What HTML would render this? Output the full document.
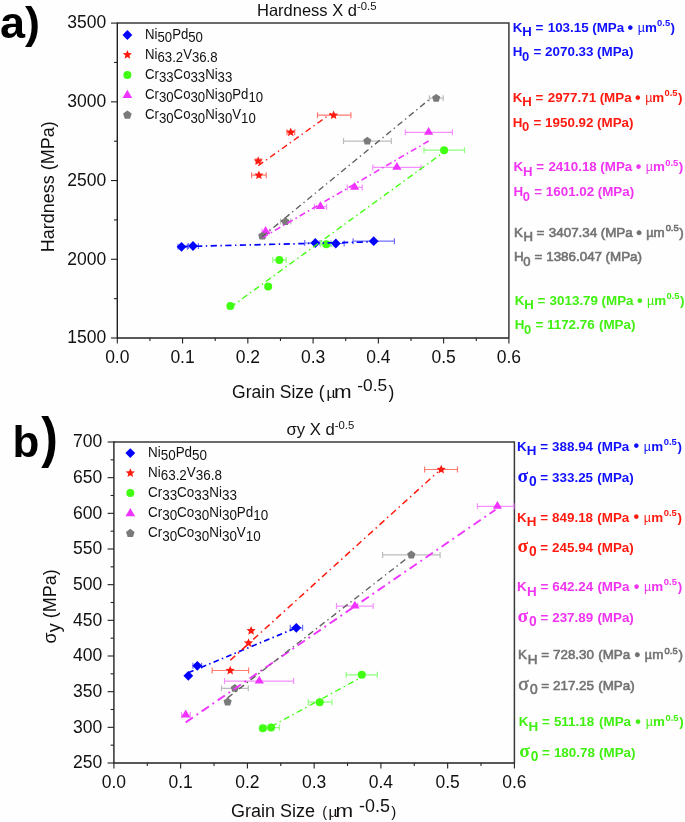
<!DOCTYPE html>
<html><head><meta charset="utf-8"><title>Hall-Petch plots</title>
<style>
html,body{margin:0;padding:0;background:#fefefe;overflow:hidden;width:685px;height:822px;}
svg{display:block;font-family:'Liberation Sans', sans-serif;will-change:transform;}
</style></head><body>
<svg width="685" height="822" viewBox="0 0 685 822">
<rect width="685" height="822" fill="#fefefe"/>
<path d="M117.3 23.1H508.9V338.0" stroke="#3a3a3a" stroke-width="1.5" fill="none"/>
<path d="M117.3 22.400000000000002V338.0H508.9" stroke="#222" stroke-width="1.4" fill="none"/>
<path d="M117.30 338.0V343.5" stroke="#222" stroke-width="1.1"/>
<text x="117.30" y="362.60" font-size="17.5" text-anchor="middle" font-weight="normal" fill="#111" >0.0</text>
<path d="M182.57 338.0V343.5" stroke="#222" stroke-width="1.1"/>
<text x="182.57" y="362.60" font-size="17.5" text-anchor="middle" font-weight="normal" fill="#111" >0.1</text>
<path d="M247.83 338.0V343.5" stroke="#222" stroke-width="1.1"/>
<text x="247.83" y="362.60" font-size="17.5" text-anchor="middle" font-weight="normal" fill="#111" >0.2</text>
<path d="M313.10 338.0V343.5" stroke="#222" stroke-width="1.1"/>
<text x="313.10" y="362.60" font-size="17.5" text-anchor="middle" font-weight="normal" fill="#111" >0.3</text>
<path d="M378.37 338.0V343.5" stroke="#222" stroke-width="1.1"/>
<text x="378.37" y="362.60" font-size="17.5" text-anchor="middle" font-weight="normal" fill="#111" >0.4</text>
<path d="M443.63 338.0V343.5" stroke="#222" stroke-width="1.1"/>
<text x="443.63" y="362.60" font-size="17.5" text-anchor="middle" font-weight="normal" fill="#111" >0.5</text>
<path d="M508.90 338.0V343.5" stroke="#222" stroke-width="1.1"/>
<text x="508.90" y="362.60" font-size="17.5" text-anchor="middle" font-weight="normal" fill="#111" >0.6</text>
<path d="M149.93 338.0V341.0" stroke="#222" stroke-width="1.1"/>
<path d="M215.20 338.0V341.0" stroke="#222" stroke-width="1.1"/>
<path d="M280.47 338.0V341.0" stroke="#222" stroke-width="1.1"/>
<path d="M345.73 338.0V341.0" stroke="#222" stroke-width="1.1"/>
<path d="M411.00 338.0V341.0" stroke="#222" stroke-width="1.1"/>
<path d="M476.27 338.0V341.0" stroke="#222" stroke-width="1.1"/>
<path d="M111.00 338.00H117.3" stroke="#222" stroke-width="1.1"/>
<text x="106.30" y="343.30" font-size="17.5" text-anchor="end" font-weight="normal" fill="#111" >1500</text>
<path d="M111.00 259.27H117.3" stroke="#222" stroke-width="1.1"/>
<text x="106.30" y="264.57" font-size="17.5" text-anchor="end" font-weight="normal" fill="#111" >2000</text>
<path d="M111.00 180.55H117.3" stroke="#222" stroke-width="1.1"/>
<text x="106.30" y="185.85" font-size="17.5" text-anchor="end" font-weight="normal" fill="#111" >2500</text>
<path d="M111.00 101.83H117.3" stroke="#222" stroke-width="1.1"/>
<text x="106.30" y="107.13" font-size="17.5" text-anchor="end" font-weight="normal" fill="#111" >3000</text>
<path d="M111.00 23.10H117.3" stroke="#222" stroke-width="1.1"/>
<text x="106.30" y="28.40" font-size="17.5" text-anchor="end" font-weight="normal" fill="#111" >3500</text>
<path d="M114.00 298.64H117.3" stroke="#222" stroke-width="1.1"/>
<path d="M114.00 219.91H117.3" stroke="#222" stroke-width="1.1"/>
<path d="M114.00 141.19H117.3" stroke="#222" stroke-width="1.1"/>
<path d="M114.00 62.46H117.3" stroke="#222" stroke-width="1.1"/>
<path d="M178.00 246.80H187.40M178.00 243.80V249.80M187.40 243.80V249.80" stroke="#7070ff" stroke-width="1.2" fill="none"/>
<path d="M188.50 246.00H198.40M188.50 243.00V249.00M198.40 243.00V249.00" stroke="#7070ff" stroke-width="1.2" fill="none"/>
<path d="M304.70 243.00H320.00M304.70 240.00V246.00M320.00 240.00V246.00" stroke="#7070ff" stroke-width="1.2" fill="none"/>
<path d="M331.00 243.50H344.20M331.00 240.50V246.50M344.20 240.50V246.50" stroke="#7070ff" stroke-width="1.2" fill="none"/>
<path d="M353.10 241.20H394.40M353.10 238.20V244.20M394.40 238.20V244.20" stroke="#7070ff" stroke-width="1.2" fill="none"/>
<path d="M181.50 241.90L186.40 246.80L181.50 251.70L176.60 246.80Z" fill="#0000ff"/>
<path d="M193.00 241.10L197.90 246.00L193.00 250.90L188.10 246.00Z" fill="#0000ff"/>
<path d="M315.30 238.10L320.20 243.00L315.30 247.90L310.40 243.00Z" fill="#0000ff"/>
<path d="M335.80 238.60L340.70 243.50L335.80 248.40L330.90 243.50Z" fill="#0000ff"/>
<path d="M373.70 236.30L378.60 241.20L373.70 246.10L368.80 241.20Z" fill="#0000ff"/>
<path d="M256.00 161.10H261.00M256.00 158.10V164.10M261.00 158.10V164.10" stroke="#ff7a70" stroke-width="1.2" fill="none"/>
<path d="M251.60 175.20H266.20M251.60 172.20V178.20M266.20 172.20V178.20" stroke="#ff7a70" stroke-width="1.2" fill="none"/>
<path d="M287.00 132.30H294.70M287.00 129.30V135.30M294.70 129.30V135.30" stroke="#ff7a70" stroke-width="1.2" fill="none"/>
<path d="M317.50 115.20H350.90M317.50 112.20V118.20M350.90 112.20V118.20" stroke="#ff7a70" stroke-width="1.2" fill="none"/>
<polygon points="258.20,156.30 259.49,159.32 262.77,159.62 260.29,161.78 261.02,164.98 258.20,163.30 255.38,164.98 256.11,161.78 253.63,159.62 256.91,159.32" fill="#ff1a10"/>
<polygon points="258.90,170.40 260.19,173.42 263.47,173.72 260.99,175.88 261.72,179.08 258.90,177.40 256.08,179.08 256.81,175.88 254.33,173.72 257.61,173.42" fill="#ff1a10"/>
<polygon points="290.70,127.50 291.99,130.52 295.27,130.82 292.79,132.98 293.52,136.18 290.70,134.50 287.88,136.18 288.61,132.98 286.13,130.82 289.41,130.52" fill="#ff1a10"/>
<polygon points="333.60,110.40 334.89,113.42 338.17,113.72 335.69,115.88 336.42,119.08 333.60,117.40 330.78,119.08 331.51,115.88 329.03,113.72 332.31,113.42" fill="#ff1a10"/>
<path d="M272.80 260.10H286.20M272.80 257.10V263.10M286.20 257.10V263.10" stroke="#90ff80" stroke-width="1.2" fill="none"/>
<path d="M320.80 244.20H331.50M320.80 241.20V247.20M331.50 241.20V247.20" stroke="#90ff80" stroke-width="1.2" fill="none"/>
<path d="M424.00 150.20H464.50M424.00 147.20V153.20M464.50 147.20V153.20" stroke="#90ff80" stroke-width="1.2" fill="none"/>
<circle cx="230.40" cy="306.00" r="4.0" fill="#40ff10"/>
<circle cx="268.20" cy="286.60" r="4.0" fill="#40ff10"/>
<circle cx="279.40" cy="260.10" r="4.0" fill="#40ff10"/>
<circle cx="326.30" cy="244.20" r="4.0" fill="#40ff10"/>
<circle cx="444.10" cy="150.20" r="4.0" fill="#40ff10"/>
<path d="M262.00 231.50H269.50M262.00 228.50V234.50M269.50 228.50V234.50" stroke="#f490ff" stroke-width="1.2" fill="none"/>
<path d="M314.40 206.70H326.60M314.40 203.70V209.70M326.60 203.70V209.70" stroke="#f490ff" stroke-width="1.2" fill="none"/>
<path d="M347.30 187.40H362.30M347.30 184.40V190.40M362.30 184.40V190.40" stroke="#f490ff" stroke-width="1.2" fill="none"/>
<path d="M372.80 167.40H421.10M372.80 164.40V170.40M421.10 164.40V170.40" stroke="#f490ff" stroke-width="1.2" fill="none"/>
<path d="M405.30 132.30H452.40M405.30 129.30V135.30M452.40 129.30V135.30" stroke="#f490ff" stroke-width="1.2" fill="none"/>
<path d="M265.60 226.10L270.20 233.90L261.00 233.90Z" fill="#f033ff"/>
<path d="M320.40 201.30L325.00 209.10L315.80 209.10Z" fill="#f033ff"/>
<path d="M354.60 182.00L359.20 189.80L350.00 189.80Z" fill="#f033ff"/>
<path d="M396.90 162.00L401.50 169.80L392.30 169.80Z" fill="#f033ff"/>
<path d="M428.60 126.90L433.20 134.70L424.00 134.70Z" fill="#f033ff"/>
<path d="M259.50 236.10H265.50M259.50 233.10V239.10M265.50 233.10V239.10" stroke="#bcbcbc" stroke-width="1.2" fill="none"/>
<path d="M280.50 221.60H290.80M280.50 218.60V224.60M290.80 218.60V224.60" stroke="#bcbcbc" stroke-width="1.2" fill="none"/>
<path d="M343.50 141.10H391.30M343.50 138.10V144.10M391.30 138.10V144.10" stroke="#bcbcbc" stroke-width="1.2" fill="none"/>
<path d="M429.40 98.20H443.20M429.40 95.20V101.20M443.20 95.20V101.20" stroke="#bcbcbc" stroke-width="1.2" fill="none"/>
<polygon points="262.30,231.80 266.39,234.77 264.83,239.58 259.77,239.58 258.21,234.77" fill="#7a7a7a"/>
<polygon points="285.40,217.30 289.49,220.27 287.93,225.08 282.87,225.08 281.31,220.27" fill="#7a7a7a"/>
<polygon points="367.30,136.80 371.39,139.77 369.83,144.58 364.77,144.58 363.21,139.77" fill="#7a7a7a"/>
<polygon points="436.20,93.90 440.29,96.87 438.73,101.68 433.67,101.68 432.11,96.87" fill="#7a7a7a"/>
<path d="M181.50 246.60L373.60 241.82" stroke="#0000ff" stroke-width="1.7" stroke-dasharray="6.2 3.5 1.4 3.5" fill="none"/>
<path d="M258.20 165.79L331.10 113.42" stroke="#ff1a10" stroke-width="1.4" stroke-dasharray="6.2 3.5 1.4 3.5" fill="none"/>
<path d="M230.40 307.29L442.00 153.45" stroke="#40ff10" stroke-width="1.4" stroke-dasharray="6.2 3.5 1.4 3.5" fill="none"/>
<path d="M262.60 237.61L429.00 140.86" stroke="#f033ff" stroke-width="1.6" stroke-dasharray="6.2 3.3 1.5 3.3" fill="none"/>
<path d="M262.20 236.84L430.00 98.91" stroke="#5f5f5f" stroke-width="1.35" stroke-dasharray="6.2 3.5 1.4 3.5" fill="none"/>
<path d="M127.40 30.10L132.30 35.00L127.40 39.90L122.50 35.00Z" fill="#0000ff"/>
<text transform="translate(145.0,38.70) scale(1,1.07)" font-size="13.2" fill="#111"><tspan dy="0">Ni</tspan><tspan dy="3.4">50</tspan><tspan dy="-3.4">Pd</tspan><tspan dy="3.4">50</tspan></text>
<polygon points="127.40,50.05 128.66,53.11 131.97,53.37 129.44,55.51 130.22,58.73 127.40,57.00 124.58,58.73 125.36,55.51 122.83,53.37 126.14,53.11" fill="#ff1a10"/>
<text transform="translate(145.0,58.75) scale(1,1.07)" font-size="13.2" fill="#111"><tspan dy="0">Ni</tspan><tspan dy="3.4">63.2</tspan><tspan dy="-3.4">V</tspan><tspan dy="3.4">36.8</tspan></text>
<circle cx="127.40" cy="74.90" r="4.0" fill="#40ff10"/>
<text transform="translate(145.0,78.80) scale(1,1.07)" font-size="13.2" fill="#111"><tspan dy="0">Cr</tspan><tspan dy="3.4">33</tspan><tspan dy="-3.4">Co</tspan><tspan dy="3.4">33</tspan><tspan dy="-3.4">Ni</tspan><tspan dy="3.4">33</tspan></text>
<path d="M127.40 89.75L132.20 98.05L122.60 98.05Z" fill="#f033ff"/>
<text transform="translate(145.0,98.85) scale(1,1.07)" font-size="13.2" fill="#111"><tspan dy="0">Cr</tspan><tspan dy="3.4">30</tspan><tspan dy="-3.4">Co</tspan><tspan dy="3.4">30</tspan><tspan dy="-3.4">Ni</tspan><tspan dy="3.4">30</tspan><tspan dy="-3.4">Pd</tspan><tspan dy="3.4">10</tspan></text>
<polygon points="127.40,110.50 131.68,113.61 130.05,118.64 124.75,118.64 123.12,113.61" fill="#7a7a7a"/>
<text transform="translate(145.0,118.90) scale(1,1.07)" font-size="13.2" fill="#111"><tspan dy="0">Cr</tspan><tspan dy="3.4">30</tspan><tspan dy="-3.4">Co</tspan><tspan dy="3.4">30</tspan><tspan dy="-3.4">Ni</tspan><tspan dy="3.4">30</tspan><tspan dy="-3.4">V</tspan><tspan dy="3.4">10</tspan></text>
<text x="257" y="16.1" font-size="16.5" fill="#111">Hardness X d<tspan font-size="11.3" dy="-6.2">-0.5</tspan></text>
<text transform="translate(53.8,252.2) rotate(-90)" x="0" y="0" font-size="18" fill="#111">Hardness (MPa)</text>
<text x="232.1" y="397.8" font-size="17.5" fill="#111">Grain Size (</text>
<text x="326.6" y="397.8" font-size="15.5" fill="#111">µ</text>
<text x="333.9" y="397.8" font-size="17.5" fill="#111" textLength="17.6" lengthAdjust="spacingAndGlyphs">m</text>
<text x="357.3" y="391.2" font-size="17.3" fill="#111">-0.5</text>
<text x="388.4" y="397.8" font-size="17.5" fill="#111">)</text>
<text x="0" y="37.7" font-size="45" font-weight="bold" fill="#000">a)</text>
<text y="31.8" font-size="13.4" font-weight="bold" fill="#1010ff"><tspan x="512.80">K</tspan><tspan x="522.30" font-size="13.2" dy="4.4">H</tspan><tspan x="535.50" dy="-4.4">=</tspan><tspan x="547.70">103.15</tspan><tspan x="592.18">(MPa</tspan><tspan x="627.58" font-size="16" dy="0.8">•</tspan><tspan x="637.68" dy="-0.8" font-weight="normal" font-size="12.5">µ</tspan><tspan x="644.88">m</tspan><tspan x="657.08" font-size="9.4" dy="-5.6">0.5</tspan><tspan x="670.58" dy="5.6">)</tspan></text>
<text y="56.4" font-size="13.4" font-weight="bold" fill="#1010ff"><tspan x="512.80">H</tspan><tspan x="522.10" font-size="13.0" dy="4.6">0</tspan><tspan x="533.50" dy="-4.6">=</tspan><tspan x="545.10">2070.33</tspan><tspan x="597.03">(MPa)</tspan></text>
<text y="101.9" font-size="13.4" font-weight="bold" fill="#ff1a10"><tspan x="512.80">K</tspan><tspan x="522.30" font-size="13.2" dy="4.4">H</tspan><tspan x="535.50" dy="-4.4">=</tspan><tspan x="547.70">2977.71</tspan><tspan x="599.63">(MPa</tspan><tspan x="635.03" font-size="16" dy="0.8">•</tspan><tspan x="645.13" dy="-0.8" font-weight="normal" font-size="12.5">µ</tspan><tspan x="652.33">m</tspan><tspan x="664.53" font-size="9.4" dy="-5.6">0.5</tspan><tspan x="678.03" dy="5.6">)</tspan></text>
<text y="126.5" font-size="13.4" font-weight="bold" fill="#ff1a10"><tspan x="512.80">H</tspan><tspan x="522.10" font-size="13.0" dy="4.6">0</tspan><tspan x="533.50" dy="-4.6">=</tspan><tspan x="545.10">1950.92</tspan><tspan x="597.03">(MPa)</tspan></text>
<text y="171.3" font-size="13.4" font-weight="bold" fill="#f033f0"><tspan x="513.50">K</tspan><tspan x="523.00" font-size="13.2" dy="4.4">H</tspan><tspan x="536.20" dy="-4.4">=</tspan><tspan x="548.40">2410.18</tspan><tspan x="600.33">(MPa</tspan><tspan x="635.73" font-size="16" dy="0.8">•</tspan><tspan x="645.83" dy="-0.8" font-weight="normal" font-size="12.5">µ</tspan><tspan x="653.03">m</tspan><tspan x="665.23" font-size="9.4" dy="-5.6">0.5</tspan><tspan x="678.73" dy="5.6">)</tspan></text>
<text y="196.2" font-size="13.4" font-weight="bold" fill="#f033f0"><tspan x="513.50">H</tspan><tspan x="522.80" font-size="13.0" dy="4.6">0</tspan><tspan x="534.20" dy="-4.6">=</tspan><tspan x="545.80">1601.02</tspan><tspan x="597.73">(MPa)</tspan></text>
<text y="236.8" font-size="13.4" font-weight="normal" fill="#727272" stroke="#727272" stroke-width="0.6"><tspan x="513.90">K</tspan><tspan x="523.40" font-size="13.2" dy="4.4">H</tspan><tspan x="536.60" dy="-4.4">=</tspan><tspan x="548.80">3407.34</tspan><tspan x="600.73">(MPa</tspan><tspan x="636.13" font-size="16" dy="0.8">•</tspan><tspan x="646.23" dy="-0.8" font-weight="normal" font-size="12.5">µ</tspan><tspan x="653.43">m</tspan><tspan x="665.63" font-size="9.4" dy="-5.6">0.5</tspan><tspan x="679.13" dy="5.6">)</tspan></text>
<text y="261.4" font-size="13.4" font-weight="normal" fill="#727272" stroke="#727272" stroke-width="0.6"><tspan x="513.90">H</tspan><tspan x="523.20" font-size="13.0" dy="4.6">0</tspan><tspan x="534.60" dy="-4.6">=</tspan><tspan x="546.20">1386.047</tspan><tspan x="605.58">(MPa)</tspan></text>
<text y="304.7" font-size="13.4" font-weight="bold" fill="#40f010"><tspan x="514.70">K</tspan><tspan x="524.20" font-size="13.2" dy="4.4">H</tspan><tspan x="537.40" dy="-4.4">=</tspan><tspan x="549.60">3013.79</tspan><tspan x="601.53">(MPa</tspan><tspan x="636.93" font-size="16" dy="0.8">•</tspan><tspan x="647.03" dy="-0.8" font-weight="normal" font-size="12.5">µ</tspan><tspan x="654.23">m</tspan><tspan x="666.43" font-size="9.4" dy="-5.6">0.5</tspan><tspan x="679.93" dy="5.6">)</tspan></text>
<text y="328.9" font-size="13.4" font-weight="bold" fill="#40f010"><tspan x="514.70">H</tspan><tspan x="524.00" font-size="13.0" dy="4.6">0</tspan><tspan x="535.40" dy="-4.6">=</tspan><tspan x="547.00">1172.76</tspan><tspan x="598.93">(MPa)</tspan></text>
<path d="M113.9 442.0H514.4V763.0" stroke="#3a3a3a" stroke-width="1.5" fill="none"/>
<path d="M113.9 441.3V763.0H514.4" stroke="#222" stroke-width="1.4" fill="none"/>
<path d="M113.90 763.0V768.5" stroke="#222" stroke-width="1.1"/>
<text x="113.90" y="787.50" font-size="17.5" text-anchor="middle" font-weight="normal" fill="#111" >0.0</text>
<path d="M180.65 763.0V768.5" stroke="#222" stroke-width="1.1"/>
<text x="180.65" y="787.50" font-size="17.5" text-anchor="middle" font-weight="normal" fill="#111" >0.1</text>
<path d="M247.40 763.0V768.5" stroke="#222" stroke-width="1.1"/>
<text x="247.40" y="787.50" font-size="17.5" text-anchor="middle" font-weight="normal" fill="#111" >0.2</text>
<path d="M314.15 763.0V768.5" stroke="#222" stroke-width="1.1"/>
<text x="314.15" y="787.50" font-size="17.5" text-anchor="middle" font-weight="normal" fill="#111" >0.3</text>
<path d="M380.90 763.0V768.5" stroke="#222" stroke-width="1.1"/>
<text x="380.90" y="787.50" font-size="17.5" text-anchor="middle" font-weight="normal" fill="#111" >0.4</text>
<path d="M447.65 763.0V768.5" stroke="#222" stroke-width="1.1"/>
<text x="447.65" y="787.50" font-size="17.5" text-anchor="middle" font-weight="normal" fill="#111" >0.5</text>
<path d="M514.40 763.0V768.5" stroke="#222" stroke-width="1.1"/>
<text x="514.40" y="787.50" font-size="17.5" text-anchor="middle" font-weight="normal" fill="#111" >0.6</text>
<path d="M147.28 763.0V766.0" stroke="#222" stroke-width="1.1"/>
<path d="M214.03 763.0V766.0" stroke="#222" stroke-width="1.1"/>
<path d="M280.77 763.0V766.0" stroke="#222" stroke-width="1.1"/>
<path d="M347.52 763.0V766.0" stroke="#222" stroke-width="1.1"/>
<path d="M414.27 763.0V766.0" stroke="#222" stroke-width="1.1"/>
<path d="M481.02 763.0V766.0" stroke="#222" stroke-width="1.1"/>
<path d="M107.60 763.00H113.9" stroke="#222" stroke-width="1.1"/>
<text x="102.20" y="768.30" font-size="17.5" text-anchor="end" font-weight="normal" fill="#111" >250</text>
<path d="M107.60 727.33H113.9" stroke="#222" stroke-width="1.1"/>
<text x="102.20" y="732.63" font-size="17.5" text-anchor="end" font-weight="normal" fill="#111" >300</text>
<path d="M107.60 691.67H113.9" stroke="#222" stroke-width="1.1"/>
<text x="102.20" y="696.97" font-size="17.5" text-anchor="end" font-weight="normal" fill="#111" >350</text>
<path d="M107.60 656.00H113.9" stroke="#222" stroke-width="1.1"/>
<text x="102.20" y="661.30" font-size="17.5" text-anchor="end" font-weight="normal" fill="#111" >400</text>
<path d="M107.60 620.33H113.9" stroke="#222" stroke-width="1.1"/>
<text x="102.20" y="625.63" font-size="17.5" text-anchor="end" font-weight="normal" fill="#111" >450</text>
<path d="M107.60 584.67H113.9" stroke="#222" stroke-width="1.1"/>
<text x="102.20" y="589.97" font-size="17.5" text-anchor="end" font-weight="normal" fill="#111" >500</text>
<path d="M107.60 549.00H113.9" stroke="#222" stroke-width="1.1"/>
<text x="102.20" y="554.30" font-size="17.5" text-anchor="end" font-weight="normal" fill="#111" >550</text>
<path d="M107.60 513.33H113.9" stroke="#222" stroke-width="1.1"/>
<text x="102.20" y="518.63" font-size="17.5" text-anchor="end" font-weight="normal" fill="#111" >600</text>
<path d="M107.60 477.67H113.9" stroke="#222" stroke-width="1.1"/>
<text x="102.20" y="482.97" font-size="17.5" text-anchor="end" font-weight="normal" fill="#111" >650</text>
<path d="M107.60 442.00H113.9" stroke="#222" stroke-width="1.1"/>
<text x="102.20" y="447.30" font-size="17.5" text-anchor="end" font-weight="normal" fill="#111" >700</text>
<path d="M110.60 745.17H113.9" stroke="#222" stroke-width="1.1"/>
<path d="M110.60 709.50H113.9" stroke="#222" stroke-width="1.1"/>
<path d="M110.60 673.83H113.9" stroke="#222" stroke-width="1.1"/>
<path d="M110.60 638.17H113.9" stroke="#222" stroke-width="1.1"/>
<path d="M110.60 602.50H113.9" stroke="#222" stroke-width="1.1"/>
<path d="M110.60 566.83H113.9" stroke="#222" stroke-width="1.1"/>
<path d="M110.60 531.17H113.9" stroke="#222" stroke-width="1.1"/>
<path d="M110.60 495.50H113.9" stroke="#222" stroke-width="1.1"/>
<path d="M110.60 459.83H113.9" stroke="#222" stroke-width="1.1"/>
<path d="M192.90 665.80H201.60M192.90 662.80V668.80M201.60 662.80V668.80" stroke="#7070ff" stroke-width="1.2" fill="none"/>
<path d="M290.30 627.80H302.60M290.30 624.80V630.80M302.60 624.80V630.80" stroke="#7070ff" stroke-width="1.2" fill="none"/>
<path d="M188.30 670.90L193.20 675.80L188.30 680.70L183.40 675.80Z" fill="#0000ff"/>
<path d="M197.30 660.90L202.20 665.80L197.30 670.70L192.40 665.80Z" fill="#0000ff"/>
<path d="M296.30 622.90L301.20 627.80L296.30 632.70L291.40 627.80Z" fill="#0000ff"/>
<path d="M212.20 670.50H248.60M212.20 667.50V673.50M248.60 667.50V673.50" stroke="#ff7a70" stroke-width="1.2" fill="none"/>
<path d="M424.60 469.50H457.50M424.60 466.50V472.50M457.50 466.50V472.50" stroke="#ff7a70" stroke-width="1.2" fill="none"/>
<polygon points="230.20,665.70 231.49,668.72 234.77,669.02 232.29,671.18 233.02,674.38 230.20,672.70 227.38,674.38 228.11,671.18 225.63,669.02 228.91,668.72" fill="#ff1a10"/>
<polygon points="248.50,638.30 249.79,641.32 253.07,641.62 250.59,643.78 251.32,646.98 248.50,645.30 245.68,646.98 246.41,643.78 243.93,641.62 247.21,641.32" fill="#ff1a10"/>
<polygon points="251.10,626.00 252.39,629.02 255.67,629.32 253.19,631.48 253.92,634.68 251.10,633.00 248.28,634.68 249.01,631.48 246.53,629.32 249.81,629.02" fill="#ff1a10"/>
<polygon points="441.20,464.70 442.49,467.72 445.77,468.02 443.29,470.18 444.02,473.38 441.20,471.70 438.38,473.38 439.11,470.18 436.63,468.02 439.91,467.72" fill="#ff1a10"/>
<path d="M266.00 727.60H279.50M266.00 724.60V730.60M279.50 724.60V730.60" stroke="#90ff80" stroke-width="1.2" fill="none"/>
<path d="M308.30 702.20H332.00M308.30 699.20V705.20M332.00 699.20V705.20" stroke="#90ff80" stroke-width="1.2" fill="none"/>
<path d="M346.20 674.80H377.30M346.20 671.80V677.80M377.30 671.80V677.80" stroke="#90ff80" stroke-width="1.2" fill="none"/>
<circle cx="262.80" cy="728.30" r="4.0" fill="#40ff10"/>
<circle cx="271.10" cy="727.60" r="4.0" fill="#40ff10"/>
<circle cx="319.70" cy="702.20" r="4.0" fill="#40ff10"/>
<circle cx="361.80" cy="674.80" r="4.0" fill="#40ff10"/>
<path d="M181.60 715.00H190.30M181.60 712.00V718.00M190.30 712.00V718.00" stroke="#f490ff" stroke-width="1.2" fill="none"/>
<path d="M224.50 681.10H293.60M224.50 678.10V684.10M293.60 678.10V684.10" stroke="#f490ff" stroke-width="1.2" fill="none"/>
<path d="M336.50 606.10H373.20M336.50 603.10V609.10M373.20 603.10V609.10" stroke="#f490ff" stroke-width="1.2" fill="none"/>
<path d="M477.40 506.30H513.80M477.40 503.30V509.30M513.80 503.30V509.30" stroke="#f490ff" stroke-width="1.2" fill="none"/>
<path d="M185.70 709.60L190.30 717.40L181.10 717.40Z" fill="#f033ff"/>
<path d="M259.30 675.70L263.90 683.50L254.70 683.50Z" fill="#f033ff"/>
<path d="M354.90 600.70L359.50 608.50L350.30 608.50Z" fill="#f033ff"/>
<path d="M497.40 500.90L502.00 508.70L492.80 508.70Z" fill="#f033ff"/>
<path d="M221.50 688.30H248.30M221.50 685.30V691.30M248.30 685.30V691.30" stroke="#bcbcbc" stroke-width="1.2" fill="none"/>
<path d="M382.60 554.90H440.10M382.60 551.90V557.90M440.10 551.90V557.90" stroke="#bcbcbc" stroke-width="1.2" fill="none"/>
<polygon points="227.60,697.60 231.69,700.57 230.13,705.38 225.07,705.38 223.51,700.57" fill="#7a7a7a"/>
<polygon points="234.80,684.00 238.89,686.97 237.33,691.78 232.27,691.78 230.71,686.97" fill="#7a7a7a"/>
<polygon points="411.30,550.60 415.39,553.57 413.83,558.38 408.77,558.38 407.21,553.57" fill="#7a7a7a"/>
<path d="M188.30 672.69L296.30 627.80" stroke="#0000ff" stroke-width="1.7" stroke-dasharray="5.6 3.3 1.5 3.3" fill="none"/>
<path d="M230.30 660.26L437.80 471.96" stroke="#ff1a10" stroke-width="1.5" stroke-dasharray="6.6 3.7 1.5 3.7" fill="none"/>
<path d="M271.10 726.50L359.20 678.37" stroke="#40ff10" stroke-width="1.4" stroke-dasharray="6.2 3.5 1.4 3.5" fill="none"/>
<path d="M185.70 722.36L495.50 509.73" stroke="#f033ff" stroke-width="1.9" stroke-dasharray="8.7 4.4 1.9 4.4" fill="none"/>
<path d="M227.60 697.87L407.00 558.24" stroke="#5f5f5f" stroke-width="1.35" stroke-dasharray="6.2 3.5 1.4 3.5" fill="none"/>
<path d="M130.30 448.20L135.20 453.10L130.30 458.00L125.40 453.10Z" fill="#0000ff"/>
<text transform="translate(148.0,456.50) scale(1,1.07)" font-size="13.45" fill="#111"><tspan dy="0">Ni</tspan><tspan dy="3.4">50</tspan><tspan dy="-3.4">Pd</tspan><tspan dy="3.4">50</tspan></text>
<polygon points="130.30,468.20 131.56,471.26 134.87,471.52 132.34,473.66 133.12,476.88 130.30,475.15 127.48,476.88 128.26,473.66 125.73,471.52 129.04,471.26" fill="#ff1a10"/>
<text transform="translate(148.0,476.60) scale(1,1.07)" font-size="13.45" fill="#111"><tspan dy="0">Ni</tspan><tspan dy="3.4">63.2</tspan><tspan dy="-3.4">V</tspan><tspan dy="3.4">36.8</tspan></text>
<circle cx="130.30" cy="493.10" r="4.0" fill="#40ff10"/>
<text transform="translate(148.0,496.70) scale(1,1.07)" font-size="13.45" fill="#111"><tspan dy="0">Cr</tspan><tspan dy="3.4">33</tspan><tspan dy="-3.4">Co</tspan><tspan dy="3.4">33</tspan><tspan dy="-3.4">Ni</tspan><tspan dy="3.4">33</tspan></text>
<path d="M130.30 508.00L135.10 516.30L125.50 516.30Z" fill="#f033ff"/>
<text transform="translate(148.0,516.80) scale(1,1.07)" font-size="13.45" fill="#111"><tspan dy="0">Cr</tspan><tspan dy="3.4">30</tspan><tspan dy="-3.4">Co</tspan><tspan dy="3.4">30</tspan><tspan dy="-3.4">Ni</tspan><tspan dy="3.4">30</tspan><tspan dy="-3.4">Pd</tspan><tspan dy="3.4">10</tspan></text>
<polygon points="130.30,528.80 134.58,531.91 132.95,536.94 127.65,536.94 126.02,531.91" fill="#7a7a7a"/>
<text transform="translate(148.0,536.90) scale(1,1.07)" font-size="13.45" fill="#111"><tspan dy="0">Cr</tspan><tspan dy="3.4">30</tspan><tspan dy="-3.4">Co</tspan><tspan dy="3.4">30</tspan><tspan dy="-3.4">Ni</tspan><tspan dy="3.4">30</tspan><tspan dy="-3.4">V</tspan><tspan dy="3.4">10</tspan></text>
<text x="286.5" y="434.7" font-size="16.7" fill="#111">σy X d<tspan font-size="11.3" dy="-6.2">-0.5</tspan></text>
<text transform="translate(55.9,643.4) rotate(-90)" x="0" y="0" font-size="18" fill="#111">σ<tspan dy="4">y</tspan><tspan dy="-4"> (MPa)</tspan></text>
<text x="230.9" y="816.7" font-size="18" fill="#111">Grain Size</text>
<text x="322.3" y="816.7" font-size="14.5" fill="#111">(</text>
<text x="328.5" y="816.7" font-size="15.5" fill="#111">µ</text>
<text x="335.6" y="816.7" font-size="17.5" fill="#111" textLength="17.6" lengthAdjust="spacingAndGlyphs">m</text>
<text x="359.0" y="811.9" font-size="17.9" fill="#111">-0.5</text>
<text x="391.2" y="816.7" font-size="15" fill="#111">)</text>
<text x="12.5" y="456.6" font-size="44" font-weight="bold" fill="#000">b</text>
<text transform="translate(41.3,456.1) scale(1,1.12)" font-size="50" font-weight="bold" fill="#000">)</text>
<text y="450.5" font-size="13.4" font-weight="bold" fill="#1010ff"><tspan x="517.00">K</tspan><tspan x="526.80" font-size="13.4" dy="4.6">H</tspan><tspan x="540.30" dy="-4.6">=</tspan><tspan x="552.10">388.94</tspan><tspan x="597.28">(MPa</tspan><tspan x="633.53" font-size="16" dy="0.8">•</tspan><tspan x="643.87" dy="-0.8" font-weight="normal" font-size="12.5">µ</tspan><tspan x="651.24">m</tspan><tspan x="663.72" font-size="9.4" dy="-5.6">0.5</tspan><tspan x="677.54" dy="5.6">)</tspan></text>
<text y="482.0" font-size="13.4" font-weight="bold" fill="#1010ff"><tspan x="517.40" font-size="19.5" font-family="Liberation Serif">σ</tspan><tspan x="529.00" font-size="13.8" dy="4.2">0</tspan><tspan x="540.30" dy="-4.2">=</tspan><tspan x="552.10">333.25</tspan><tspan x="597.28">(MPa)</tspan></text>
<text y="521.6" font-size="13.4" font-weight="bold" fill="#ff1a10"><tspan x="517.00">K</tspan><tspan x="526.80" font-size="13.4" dy="4.6">H</tspan><tspan x="540.30" dy="-4.6">=</tspan><tspan x="552.10">849.18</tspan><tspan x="597.28">(MPa</tspan><tspan x="633.53" font-size="16" dy="0.8">•</tspan><tspan x="643.87" dy="-0.8" font-weight="normal" font-size="12.5">µ</tspan><tspan x="651.24">m</tspan><tspan x="663.72" font-size="9.4" dy="-5.6">0.5</tspan><tspan x="677.54" dy="5.6">)</tspan></text>
<text y="552.1" font-size="13.4" font-weight="bold" fill="#ff1a10"><tspan x="517.40" font-size="19.5" font-family="Liberation Serif">σ</tspan><tspan x="529.00" font-size="13.8" dy="4.2">0</tspan><tspan x="540.30" dy="-4.2">=</tspan><tspan x="552.10">245.94</tspan><tspan x="597.28">(MPa)</tspan></text>
<text y="591.0" font-size="13.4" font-weight="bold" fill="#f033f0"><tspan x="517.10">K</tspan><tspan x="526.90" font-size="13.4" dy="4.6">H</tspan><tspan x="540.40" dy="-4.6">=</tspan><tspan x="552.20">642.24</tspan><tspan x="597.38">(MPa</tspan><tspan x="633.63" font-size="16" dy="0.8">•</tspan><tspan x="643.97" dy="-0.8" font-weight="normal" font-size="12.5">µ</tspan><tspan x="651.34">m</tspan><tspan x="663.82" font-size="9.4" dy="-5.6">0.5</tspan><tspan x="677.64" dy="5.6">)</tspan></text>
<text y="621.6" font-size="13.4" font-weight="bold" fill="#f033f0"><tspan x="517.50" font-size="19.5" font-family="Liberation Serif">σ</tspan><tspan x="529.10" font-size="13.8" dy="4.2">0</tspan><tspan x="540.40" dy="-4.2">=</tspan><tspan x="552.20">237.89</tspan><tspan x="597.38">(MPa)</tspan></text>
<text y="659.3" font-size="13.4" font-weight="normal" fill="#727272" stroke="#727272" stroke-width="0.6"><tspan x="517.90">K</tspan><tspan x="527.70" font-size="13.4" dy="4.6">H</tspan><tspan x="541.20" dy="-4.6">=</tspan><tspan x="553.00">728.30</tspan><tspan x="598.18">(MPa</tspan><tspan x="634.43" font-size="16" dy="0.8">•</tspan><tspan x="644.77" dy="-0.8" font-weight="normal" font-size="12.5">µ</tspan><tspan x="652.14">m</tspan><tspan x="664.62" font-size="9.4" dy="-5.6">0.5</tspan><tspan x="678.44" dy="5.6">)</tspan></text>
<text y="689.6" font-size="13.4" font-weight="normal" fill="#727272" stroke="#727272" stroke-width="0.6"><tspan x="518.30" font-size="19.5" font-family="Liberation Serif">σ</tspan><tspan x="529.90" font-size="13.8" dy="4.2">0</tspan><tspan x="541.20" dy="-4.2">=</tspan><tspan x="553.00">217.25</tspan><tspan x="598.18">(MPa)</tspan></text>
<text y="726.1" font-size="13.4" font-weight="bold" fill="#40f010"><tspan x="518.80">K</tspan><tspan x="528.60" font-size="13.4" dy="4.6">H</tspan><tspan x="542.10" dy="-4.6">=</tspan><tspan x="553.90">511.18</tspan><tspan x="599.08">(MPa</tspan><tspan x="635.33" font-size="16" dy="0.8">•</tspan><tspan x="645.67" dy="-0.8" font-weight="normal" font-size="12.5">µ</tspan><tspan x="653.04">m</tspan><tspan x="665.52" font-size="9.4" dy="-5.6">0.5</tspan><tspan x="679.34" dy="5.6">)</tspan></text>
<text y="756.7" font-size="13.4" font-weight="bold" fill="#40f010"><tspan x="519.20" font-size="19.5" font-family="Liberation Serif">σ</tspan><tspan x="530.80" font-size="13.8" dy="4.2">0</tspan><tspan x="542.10" dy="-4.2">=</tspan><tspan x="553.90">180.78</tspan><tspan x="599.08">(MPa)</tspan></text>
</svg>
</body></html>
